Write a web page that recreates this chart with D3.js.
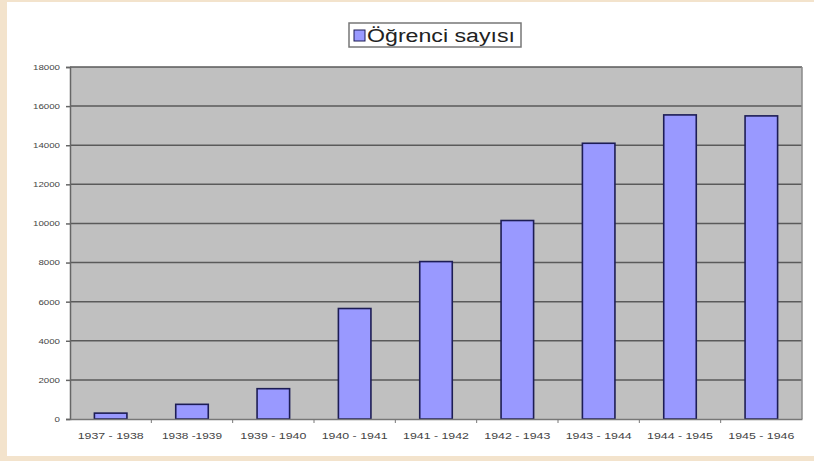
<!DOCTYPE html>
<meta charset="utf-8">
<title>Öğrenci sayısı</title>
<style>
  body { margin: 0; background: #f3e3cc; }
  svg { display: block; }
  .tick text { font-family: "Liberation Sans", Arial, sans-serif; fill: #444; }
</style>
<body>
<script src="https://cdn.jsdelivr.net/npm/d3@7"></script>
<script>

// data
var years = ["1937 - 1938", "1938 -1939", "1939 - 1940", "1940 - 1941", "1941 - 1942",
             "1942 - 1943", "1943 - 1944", "1944 - 1945", "1945 - 1946"];
var students = [300, 750, 1550, 5650, 8050, 10150, 14100, 15550, 15500];
var yTicks = [0, 2000, 4000, 6000, 8000, 10000, 12000, 14000, 16000, 18000];
var seriesName = "Öğrenci sayısı";

var W = 814, H = 461;
var margin = {top: 67, right: 12, bottom: 42, left: 70};
var width = 802 - margin.left;
var height = 419 - margin.top;

var svg = d3.select("body").append("svg")
  .attr("width", W)
  .attr("height", H);

// white card on beige page
svg.append("rect")
  .attr("x", 7).attr("y", 2)
  .attr("width", W - 7).attr("height", 454)
  .attr("fill", "#fff");

var g = svg.append("g")
  .attr("transform", "translate(" + margin.left + "," + margin.top + ")");

var x = d3.scaleBand().domain(years).range([0, width]).paddingInner(0.6).paddingOuter(0.3);
var xb = d3.scaleBand().domain(years).range([0, width]);
var y = d3.scaleLinear().domain([0, 18000]).range([height, 0]);

// plot background
g.append("rect")
  .attr("width", width).attr("height", height)
  .attr("fill", "#c0c0c0");

// grid lines
g.selectAll(".grid")
  .data(yTicks.slice(1))
  .enter().append("line")
  .attr("x1", 0).attr("x2", width)
  .attr("y1", function(d) { return y(d); })
  .attr("y2", function(d) { return y(d); })
  .attr("stroke", "#5a5a5a")
  .attr("stroke-width", 1.5);

// right edge of plot
g.append("line")
  .attr("x1", width).attr("x2", width)
  .attr("y1", 0).attr("y2", height)
  .attr("stroke", "#8a8a8a").attr("stroke-width", 1.5);

// bars
g.selectAll(".bar")
  .data(students)
  .enter().append("rect")
  .attr("x", function(d, i) { return x(years[i]); })
  .attr("width", x.bandwidth())
  .attr("y", function(d) { return y(d); })
  .attr("height", function(d) { return height - y(d); })
  .attr("fill", "#9999ff")
  .attr("stroke", "#1d1d55")
  .attr("stroke-width", 1.6);

// y axis (labels look stretched sideways in the picture)
var yAxis = g.append("g")
  .call(d3.axisLeft(y).tickValues(yTicks).tickFormat(d3.format("d")).tickSize(4).tickPadding(6));
yAxis.selectAll("text")
  .style("font-size", "7.5px")
  .attr("textLength", function(d) { return String(d).length * 5.4; })
  .attr("lengthAdjust", "spacingAndGlyphs");
yAxis.selectAll("line, path").attr("stroke", "#666").attr("stroke-width", 1.5);

// x axis, ticks between categories
var xAxis = g.append("g")
  .attr("transform", "translate(0," + height + ")")
  .call(d3.axisBottom(xb).tickSize(0).tickPadding(13));
xAxis.selectAll("text")
  .style("font-size", "9.5px")
  .attr("textLength", function(d) { return d.length * 6; })
  .attr("lengthAdjust", "spacingAndGlyphs");
xAxis.select("path").attr("stroke", "#777").attr("stroke-width", 1.5);
g.selectAll(".xt")
  .data(years.slice(1))
  .enter().append("line")
  .attr("x1", function(d) { return xb(d); })
  .attr("x2", function(d) { return xb(d); })
  .attr("y1", height).attr("y2", height + 4)
  .attr("stroke", "#777");

// legend
var lg = svg.append("g").attr("transform", "translate(349,23)");
lg.append("rect")
  .attr("width", 172).attr("height", 24)
  .attr("fill", "#fff")
  .attr("stroke", "#777").attr("stroke-width", 1.5);
lg.append("rect")
  .attr("x", 5).attr("y", 7)
  .attr("width", 11).attr("height", 11)
  .attr("fill", "#9999ff").attr("stroke", "#1d1d55");
lg.append("text")
  .attr("x", 18).attr("y", 19)
  .attr("textLength", 148)
  .attr("lengthAdjust", "spacingAndGlyphs")
  .style("font-family", "'Liberation Sans', Arial, sans-serif")
  .style("font-size", "18px")
  .style("fill", "#222")
  .text(seriesName);

</script>
</body>
